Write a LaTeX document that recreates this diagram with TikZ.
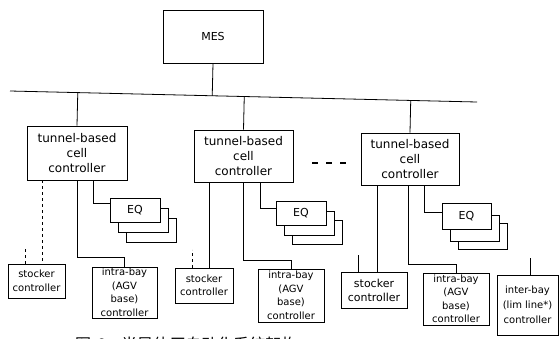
\documentclass[tikz,border=0pt]{standalone}
\usepackage{fontspec}
\setmainfont{DejaVu Sans}
\newfontfamily\cjk{Noto Sans CJK SC}
\usetikzlibrary{calc}
\begin{document}
\begin{tikzpicture}[x=1pt,y=-1pt,
  box/.style={draw, line width=0.8pt, inner sep=0pt, align=center, fill=white},
  conn/.style={line width=0.8pt},
  cellfont/.style={font=\fontsize{12}{15}\selectfont},
  smallfont/.style={font=\fontsize{10}{13.5}\selectfont},
  eqbox/.style={box, minimum width=50, minimum height=24, font=\fontsize{11}{13}\selectfont}]
\useasboundingbox (0,0) rectangle (559,338);
\clip (0,0) rectangle (559,338);

% MES and bus
\node[box, minimum width=100, minimum height=53, font=\fontsize{11}{13}\selectfont] (mes) at (213,36.5) {MES};
\coordinate (busL) at (10,91);
\coordinate (busR) at (477,102);
\draw[conn] (busL) -- (busR);
\draw[conn] (mes.south) -- ($(busL)!(mes.south)!(busR)$);

% cell controllers
\node[box, cellfont, minimum width=100, minimum height=54] (cell1) at (77,153) {tunnel-based\\cell\\controller};
\node[box, cellfont, minimum width=99, minimum height=52] (cell2) at (243.5,156) {tunnel-based\\cell\\controller};
\node[box, cellfont, minimum width=98, minimum height=52] (cell3) at (410,159) {tunnel-based\\cell\\controller};
\draw[conn] ($(busL)!(cell1.north)!(busR)$) -- (cell1.north);
\draw[conn] ($(busL)!(cell2.north)!(busR)$) -- (cell2.north);
\draw[conn] ($(busL)!(cell3.north)!(busR)$) -- (cell3.north);

% ellipsis
\draw[line width=2pt, dash pattern=on 6pt off 8pt] (312,163) -- (348,163);

% group 1
\node[box, smallfont, minimum width=57, minimum height=34] (stk1) at (36.5,281) {stocker\\controller};
\node[box, smallfont, minimum width=65, minimum height=51] (intra1) at (124.5,292.5) {intra-bay\\(AGV\\base)\\controller};
\node[eqbox] (eq1c) at (151,230) {};
\node[eqbox] (eq1b) at (143,220) {};
\node[eqbox] (eq1a) at (135,210) {EQ};
\draw[conn, dashed] (42,0 |- cell1.south) -- (42,0 |- stk1.north);
\draw[conn, dashed] (25,0 |- stk1.north) -- ++(0,-17);
\draw[conn] (cell1.south) -- ++(0,77) -| (intra1.north);
\draw[conn] (93,0 |- cell1.south) |- ($(eq1a.north west)!0.22!(eq1a.south west)$);

% group 2
\node[box, smallfont, minimum width=58, minimum height=35] (stk2) at (204,285.5) {stocker\\controller};
\node[box, smallfont, minimum width=66, minimum height=53] (intra2) at (291,295.5) {intra-bay\\(AGV\\base)\\controller};
\node[eqbox] (eq2c) at (317,232) {};
\node[eqbox] (eq2b) at (309,223) {};
\node[eqbox] (eq2a) at (301,213) {EQ};
\draw[conn] (209,0 |- cell2.south) -- (209,0 |- stk2.north);
\draw[conn, dashed] (192,0 |- stk2.north) -- ++(0,-18);
\draw[conn] (cell2.south) -- ++(0,78) -| (intra2.north);
\draw[conn] (260,0 |- cell2.south) |- ($(eq2a.north west)!0.3!(eq2a.south west)$);

% group 3
\node[box, font=\fontsize{11}{14}\selectfont, minimum width=66, minimum height=36] (stk3) at (374,290) {stocker\\controller};
\node[box, smallfont, minimum width=66, minimum height=52] (intra3) at (456,299) {intra-bay\\(AGV\\base)\\controller};
\node[eqbox, minimum width=49, minimum height=26] (eq3c) at (482.5,236) {};
\node[eqbox, minimum width=49, minimum height=26] (eq3b) at (474.5,228) {};
\node[eqbox, minimum width=49, minimum height=26] (eq3a) at (466.5,216) {EQ};
\draw[conn] (377,0 |- cell3.south) -- (377,0 |- stk3.north);
\draw[conn] (358,0 |- stk3.north) -- ++(0,-17);
\draw[conn] (408,0 |- cell3.south) -- ++(0,79) -| (intra3.north);
\draw[conn] (424,0 |- cell3.south) |- ($(eq3a.north west)!0.35!(eq3a.south west)$);

\node[box, font=\fontsize{10}{15}\selectfont, minimum width=61, minimum height=60] (inter) at (527.5,305) {inter-bay\\(lim line*)\\controller};
\draw[conn] (530,0 |- inter.north) -- ++(0,-17);

% caption (cut off at the bottom edge, as in the reference)
\node[anchor=base west, inner sep=0pt, font=\cjk\fontsize{16}{18}\selectfont] (cap) at (75,350) {图\,\,6\quad 半导体厂自动化系统架构};
\end{tikzpicture}
\end{document}
